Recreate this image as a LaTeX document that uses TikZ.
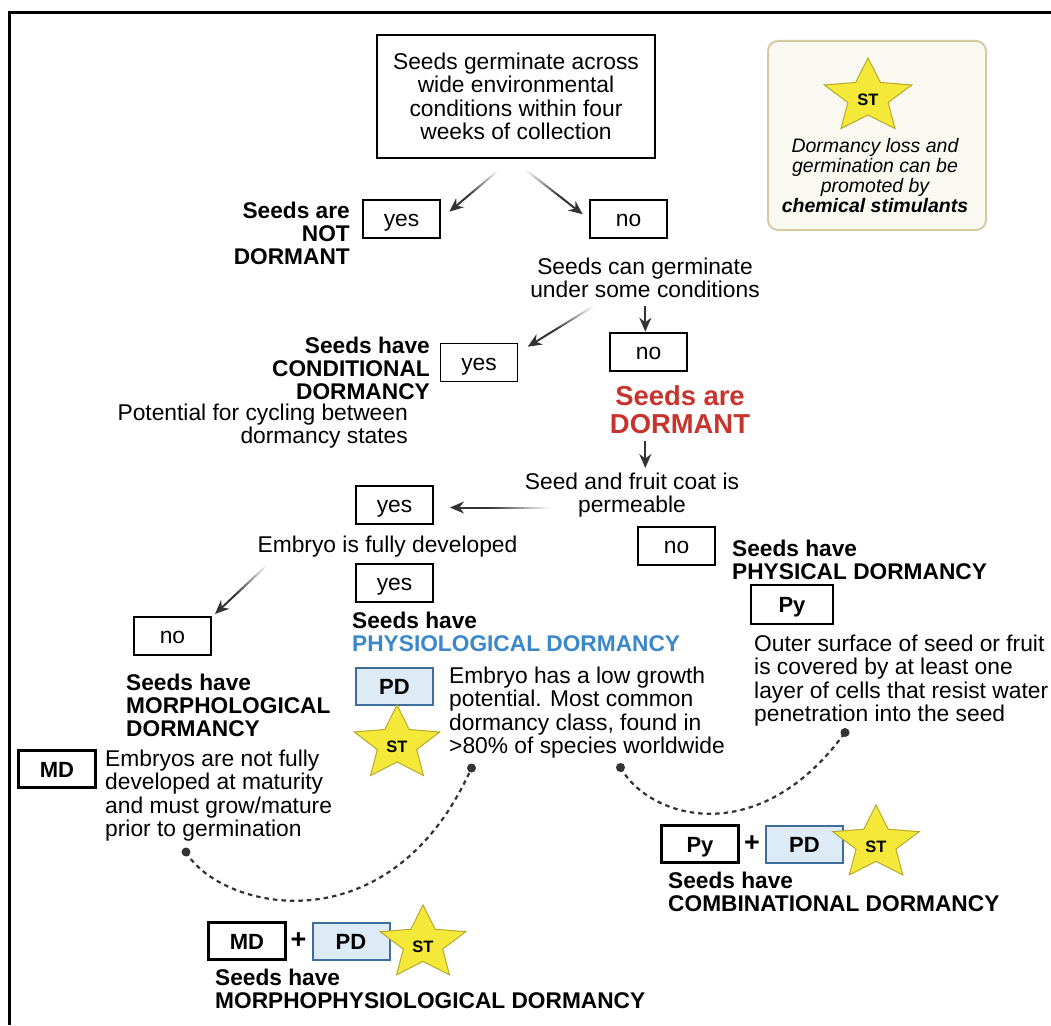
\documentclass[tikz,border=0pt]{standalone}
\usepackage{fontspec}
\setmainfont{Liberation Sans}
\usetikzlibrary{calc,arrows.meta}
\definecolor{arrcol}{HTML}{333333}
\definecolor{redt}{HTML}{C8342D}
\definecolor{bluet}{HTML}{3A87C9}
\definecolor{pdfill}{HTML}{DDEBF7}
\definecolor{pdline}{HTML}{3F6E9C}
\definecolor{starf}{HTML}{F4E938}
\definecolor{stard}{HTML}{B9A82C}
\definecolor{legf}{HTML}{FAF9F1}
\definecolor{legd}{HTML}{D6CAA3}
\newcommand\myfsn{\fontsize{22.8}{23.3}\selectfont}
\newcommand\myfsb{\fontsize{22.7}{22.7}\selectfont\bfseries}
\newcommand\myfsi{\fontsize{19.5}{20}\selectfont\itshape}
\newcommand\myfsr{\fontsize{27.4}{27.5}\selectfont\bfseries}
\newcommand\fadearr[2]{%
  \foreach \k in {1,...,12}{%
    \pgfmathsetmacro\fa{(\k-1)*0.05}%
    \pgfmathsetmacro\fb{\k*0.05+0.01}%
    \pgfmathtruncatemacro\fp{8*\k}%
    \draw[line width=2pt, draw=arrcol!\fp!white] ($(#1)!\fa!(#2)$) -- ($(#1)!\fb!(#2)$);
  }%
  \draw[arr] ($(#1)!0.6!(#2)$) -- (#2);
}
\newcommand\ststar[5]{%
  \draw[starsty] plot[samples at={0,...,9}, variable=\t] ({#2+#4*(1-0.54*mod(\t,2))*cos(270+36*\t)},{#3+#5*(1-0.54*mod(\t,2))*sin(270+36*\t)}) -- cycle;
  \node[sttxt] (#1) at (#2,#3+3) {ST};
}
\begin{document}
\begin{tikzpicture}[x=1pt,y=-1pt,
  txt/.style={inner sep=0pt, font=\myfsn, execute at begin node=\strut},
  btxt/.style={inner sep=0pt, font=\myfsb, execute at begin node=\strut},
  ybox/.style={draw=black, line width=1.8pt, minimum width=77pt, minimum height=38pt, inner sep=0pt, font=\myfsn, text height=18pt, text depth=2.5pt},
  kbox/.style={draw=black, line width=2.4pt, minimum width=77pt, minimum height=37pt, inner sep=0pt, font=\fontsize{22}{22}\selectfont\bfseries, text height=16.5pt, text depth=0pt},
  pdbox/.style={draw=pdline, fill=pdfill, line width=2pt, minimum width=77pt, minimum height=37pt, inner sep=0pt, font=\fontsize{22}{22}\selectfont\bfseries, text height=16.5pt, text depth=0pt},
  arr/.style={draw=arrcol, line width=2pt, -{Stealth[length=14pt,width=12pt]}},
  starsty/.style={fill=starf, draw=stard, line width=1pt, line join=miter},
  sttxt/.style={inner sep=0pt, font=\fontsize{16.5}{16.5}\selectfont\bfseries},
  plussty/.style={inner sep=0pt, font=\fontsize{27}{27}\selectfont\bfseries},
  dotn/.style={circle, fill=arrcol, inner sep=0pt, minimum size=9pt},
  dotline/.style={draw=arrcol, line width=2.2pt, dash pattern=on 4.5pt off 4pt}
]
\useasboundingbox (0,0) rectangle (1051,1025);
% frame
\draw[line width=3pt] (1051,12.5) -- (9.5,12.5) -- (9.5,1025);

% legend
\node[draw=legd, fill=legf, line width=2pt, rounded corners=10pt, minimum width=218pt, minimum height=189pt, inner sep=0pt] (leg) at (877,135.5) {};
\ststar{stL}{868}{97}{46}{39}
\node[inner sep=0pt, font=\myfsi, align=center, anchor=north, execute at begin node=\strut] (legtxt) at (875,138.5)
  {Dormancy loss and\\germination can be\\promoted by\\\textbf{chemical stimulants}};

% top
\node[draw=black, line width=2.5pt, minimum width=278pt, minimum height=123pt, inner sep=0pt, align=center, font=\myfsn] (top) at (516,96.5)
  {Seeds germinate across\\wide environmental\\conditions within four\\weeks of collection};
\node[ybox] (yesA) at (401.5,219) {yes};
\node[ybox] (noA) at (628.5,219) {no};
\node[btxt, align=right, anchor=north east] (notd) at (350,202.1) {Seeds are\\NOT\\DORMANT};
\coordinate (a1s) at (496.7,171.7); \coordinate (a1e) at (449.3,211.7);
\coordinate (a2s) at (526.7,170.7); \coordinate (a2e) at (582.7,214.3);
\fadearr{a1s}{a1e}
\fadearr{a2s}{a2e}

\node[txt, align=center, anchor=north] (cangerm) at (645,257.7) {Seeds can germinate\\under some conditions};
\node[ybox] (yesB) at (479,362.5) {yes};
\node[ybox] (noB) at (648.5,352) {no};
\coordinate (a3s) at (592.7,306.7); \coordinate (a3e) at (527.7,346.7);
\fadearr{a3s}{a3e}
\coordinate (a4s) at (645.3,306); \coordinate (a4e) at (645.3,331.7);
\draw[arr] (a4s) -- (a4e);
\node[btxt, align=right, anchor=north east] (condl) at (430,337.1) {Seeds have\\CONDITIONAL\\DORMANCY};
\node[txt, align=right, anchor=north east] (pot) at (408,403.7) {Potential for cycling between\\dormancy states};
\node[inner sep=0pt, font=\myfsr, text=redt, align=center, anchor=north, execute at begin node=\strut] (dorm) at (680,385.7) {Seeds are\\DORMANT};

\coordinate (a5s) at (645.3,441); \coordinate (a5e) at (645.3,468);
\draw[arr] (a5s) -- (a5e);
\node[txt, align=center, anchor=north] (coat) at (632,472.7) {Seed and fruit coat is\\permeable};
\node[ybox] (yesC) at (394.5,505) {yes};
\coordinate (a6s) at (548,507.5); \coordinate (a6e) at (450,507.5);
\fadearr{a6s}{a6e}
\node[ybox] (noC) at (676.5,546) {no};
\node[btxt, align=left, anchor=north west] (physl) at (732,540.1) {Seeds have\\PHYSICAL DORMANCY};
\node[kbox, minimum width=82pt, minimum height=39pt] (Py1) at (792,604.5) {Py};
\node[txt, align=left, anchor=north west] (outer) at (754,634.7) {Outer surface of seed or fruit\\is covered by at least one\\layer of cells that resist water\\penetration into the seed};

\node[txt, anchor=north] (embd) at (387.5,535.7) {Embryo is fully developed};
\node[ybox] (yesD) at (394.5,583) {yes};
\node[ybox] (noD) at (172.5,636) {no};
\coordinate (a7s) at (266,566); \coordinate (a7e) at (215,614);
\fadearr{a7s}{a7e}

\node[btxt, align=left, anchor=north west] (physiol) at (352,612.1) {Seeds have\\\textcolor{bluet}{PHYSIOLOGICAL DORMANCY}};
\node[pdbox] (PD1) at (394.5,686) {PD};
\ststar{st1}{397}{744}{45}{39}
\node[txt, align=left, anchor=north west] (lowg) at (449,666.7) {Embryo has a low growth\\potential. Most common\\dormancy class, found in\\>80\% of species worldwide};

\node[btxt, align=left, anchor=north west] (morphl) at (126,674.1) {Seeds have\\MORPHOLOGICAL\\DORMANCY};
\node[kbox] (MD1) at (57,769) {MD};
\node[txt, align=left, anchor=north west] (notfull) at (105,749.7) {Embryos are not fully\\developed at maturity\\and must grow/mature\\prior to germination};

% dotted connectors
\node[dotn] (d1) at (186,852) {};
\node[dotn] (d2) at (471.5,768) {};
\node[dotn] (d3) at (620.5,767.5) {};
\node[dotn] (d4) at (845,732.5) {};
\draw[dotline] (d1.center) .. controls (220,910) and (390,950) .. (d2.center);
\draw[dotline] (d3.center) .. controls (650,820) and (760,850) .. (d4.center);

% MPD
\node[kbox] (MD2) at (247,941) {MD};
\node[plussty] (pl1) at (298.5,941) {+};
\node[pdbox] (PD2) at (351,941) {PD};
\ststar{st2}{423}{943.6}{45}{38.6}
\node[btxt, align=left, anchor=north west] (mpdl) at (215,969.1) {Seeds have\\MORPHOPHYSIOLOGICAL DORMANCY};

% combinational
\node[kbox] (Py2) at (700,844) {Py};
\node[plussty] (pl2) at (752,844) {+};
\node[pdbox] (PD3) at (804.5,844) {PD};
\ststar{st3}{876}{843.6}{45.5}{38.6}
\node[btxt, align=left, anchor=north west] (combl) at (668,872.1) {Seeds have\\COMBINATIONAL DORMANCY};
\end{tikzpicture}
\end{document}
